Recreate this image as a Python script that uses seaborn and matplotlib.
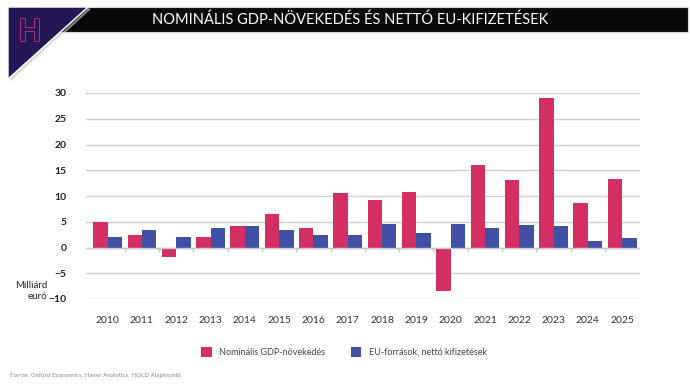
import numpy as np
import pandas as pd
import matplotlib
matplotlib.use("Agg")
import matplotlib.pyplot as plt
import matplotlib.patheffects as pe
from matplotlib.patches import Polygon, Rectangle
import seaborn as sns

# data (billion euro)
years = [str(y) for y in range(2010, 2026)]
gdp_growth = [4.9, 2.4, -1.8, 2.1, 4.15, 6.6, 3.8, 10.5, 9.3, 10.8, -8.4, 16.0, 13.1, 29.1, 8.6, 13.3]
eu_net = [1.95, 3.4, 2.1, 3.7, 4.2, 3.4, 2.4, 2.4, 4.5, 2.9, 4.5, 3.8, 4.3, 4.15, 1.2, 1.75]
series_names = ["Nominális GDP-növekedés", "EU-források, nettó kifizetések"]
colors = ["#d32f62", "#3f50a6"]

title = "NOMINÁLIS GDP-NÖVEKEDÉS ÉS NETTÓ EU-KIFIZETÉSEK"
source = "Forrás: Oxford Economics, Haver Analytics, HOLD Alapkezelő"

df = pd.DataFrame({
    "year": years * 2,
    "value": gdp_growth + eu_net,
    "series": [series_names[0]] * len(years) + [series_names[1]] * len(years),
})

sns.set_theme(style="white")
plt.rcParams["font.family"] = ["Lato", "DejaVu Sans"]

W, H = 690, 388
fig = plt.figure(figsize=(W / 100, H / 100), dpi=100)
ax = fig.add_axes([86 / W, 1 - 299 / H, (640 - 86) / W, (299 - 93) / H])

sns.barplot(data=df, x="year", y="value", hue="series", palette=colors,
            width=0.84, gap=0, saturation=1, ax=ax, legend=True, linewidth=0)

ax.set_ylim(-10, 30)
ax.set_xlim(-0.63, 15.52)
ax.set_yticks(np.arange(-10, 31, 5))
ax.yaxis.grid(True, color="#d0d0d0", linewidth=1)
ax.set_axisbelow(True)
for s in ax.spines.values():
    s.set_visible(False)
ax.axhline(0, color="#c8c8c8", linewidth=1, zorder=1)
ax.vlines(np.arange(len(years) - 1) + 0.5, -0.9, 0, color="#c8c8c8", linewidth=1, zorder=1)

ax.set_xlabel("")
ax.set_ylabel("")
ax.tick_params(axis="y", length=0, pad=14, labelsize=7.5, labelcolor="#222222")
ax.tick_params(axis="x", length=0, pad=12, labelsize=7.5, labelcolor="#333333")
for lbl in ax.get_yticklabels():
    lbl.set_fontweight("bold")

fig.text(47 / W, 1 - 291 / H, "Milliárd\neuró", ha="right", va="center",
         fontsize=7, color="#222222", multialignment="right", linespacing=1.3)

# legend at the bottom
handles, labels = ax.get_legend_handles_labels()
ax.get_legend().remove()
fig.legend(handles, labels, loc="center", bbox_to_anchor=(344 / W, 1 - 352 / H),
           ncol=2, frameon=False, fontsize=6.5, labelcolor="#444444",
           handlelength=1.2, handleheight=1.3, handletextpad=0.8, columnspacing=2.8)

fig.text(10 / W, 1 - 376 / H, source, fontsize=4.5, color="#8a8a8a", va="center")

# title bar and logo
fig.patches.append(Rectangle((40 / W, 1 - 32 / H), (688 - 40) / W, 25 / H,
                             transform=fig.transFigure, facecolor="#0a0a0a",
                             edgecolor="#d5d5d5", linewidth=0.8, zorder=1))
fig.text(350 / W, 1 - 20 / H, title, ha="center", va="center", color="white",
         fontsize=10.5, zorder=3)
fig.patches.append(Polygon([(10 / W, 1 - 9 / H), (90 / W, 1 - 9 / H), (10 / W, 1 - 82 / H)],
                           closed=True, transform=fig.transFigure,
                           facecolor="#aaaaaa", alpha=0.45, zorder=1))
fig.patches.append(Polygon([(8 / W, 1 - 7 / H), (88 / W, 1 - 7 / H), (8 / W, 1 - 79 / H)],
                           closed=True, transform=fig.transFigure,
                           facecolor="#251756", zorder=2))
fig.text(30 / W, 1 - 32 / H, "H", ha="center", va="center", fontsize=22,
         fontweight="bold", color="#251756", zorder=4,
         path_effects=[pe.withStroke(linewidth=1.2, foreground="#c8307a")])

fig.savefig("out.png", dpi=100, facecolor="white")
